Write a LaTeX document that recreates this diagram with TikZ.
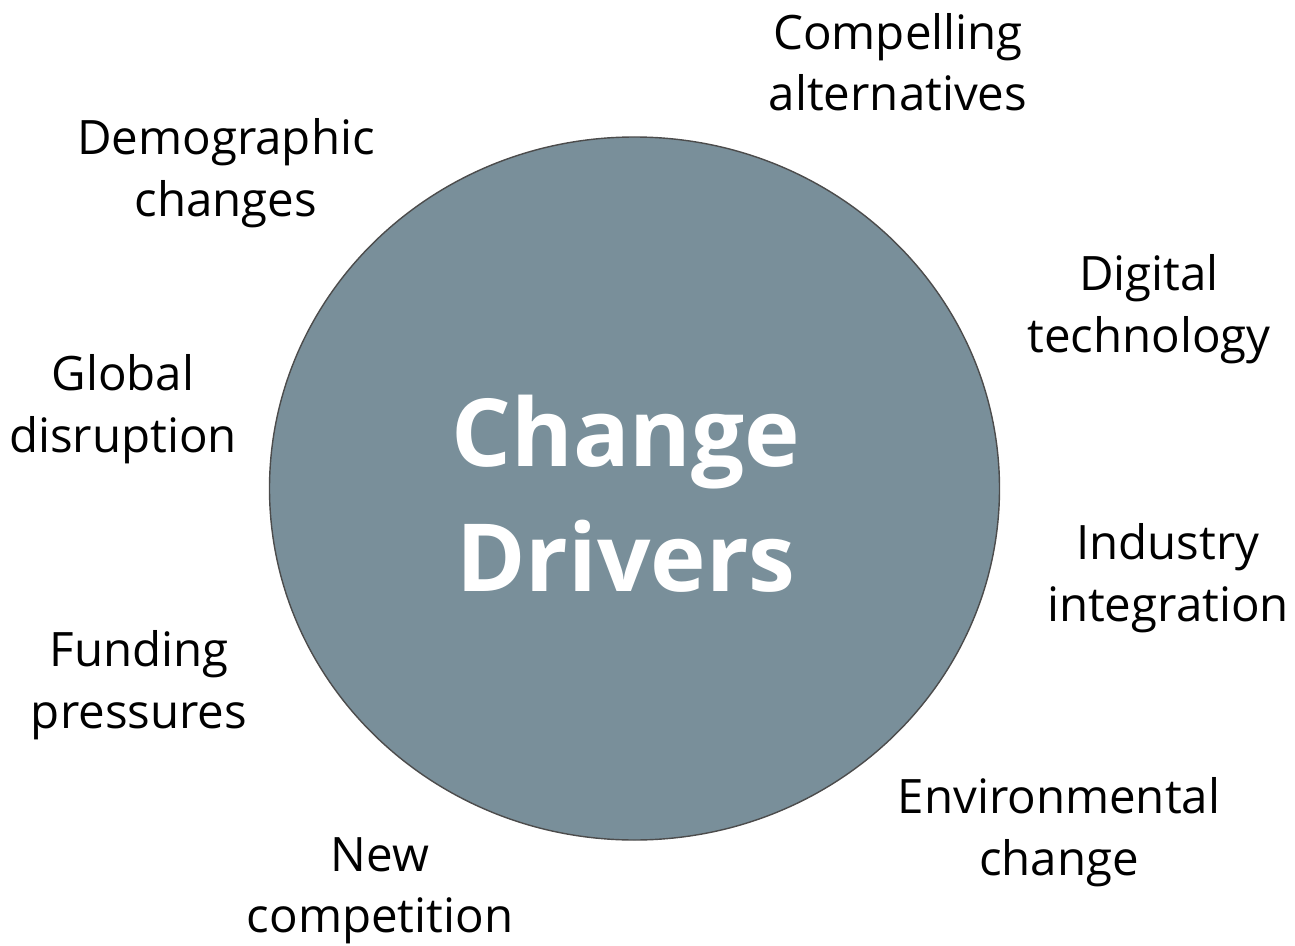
\documentclass[tikz,border=0pt]{standalone}
\usepackage{fontspec}
\setmainfont{Open Sans}
\usetikzlibrary{shapes.geometric}
\begin{document}
\begin{tikzpicture}[x=0.02cm,y=-0.02cm,
  lbl/.style={align=center,font=\fontsize{27}{35}\selectfont,text=black,inner sep=0pt},
  hub/.style={ellipse,draw=black!70,line width=0.8pt,fill=hubfill,minimum width=730*0.02cm,minimum height=703*0.02cm,inner sep=0pt}]
\definecolor{hubfill}{HTML}{798F9A}
\useasboundingbox (0,0) rectangle (1295,946);
\node[hub] (c) at (634.5,488.5) {};
\node[align=center,text=white,font=\bfseries\fontsize{53.5}{71}\selectfont,inner sep=0pt] (t) at (626,494) {Change\\Drivers};
\node[lbl] (a1) at (898,62) {Compelling\\alternatives};
\node[lbl] (a2) at (226,173) {Demographic\\changes};
\node[lbl] (a3) at (1149,309) {Digital\\technology};
\node[lbl] (a4) at (123,409) {Global\\disruption};
\node[lbl] (a5) at (1168,578) {Industry\\integration};
\node[lbl] (a6) at (139,685) {Funding\\pressures};
\node[lbl] (a7) at (1059,832) {Environmental\\change};
\node[lbl] (a8) at (380,891) {New\\competition};
\end{tikzpicture}
\end{document}
